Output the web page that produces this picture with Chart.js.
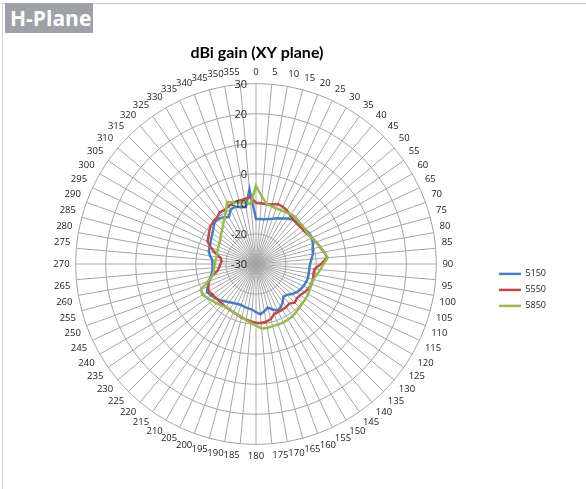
<!DOCTYPE html>
<html lang="en">
<head>
    <meta charset="UTF-8">
    <title>H-Plane</title>
    <script src="https://cdn.jsdelivr.net/npm/chart.js"></script>
    <style>
        html, body {
            margin: 0;
            padding: 0;
            background: #ffffff;
            width: 586px;
            height: 489px;
            overflow: hidden;
            font-family: "Open Sans", Arial, sans-serif;
        }
        .frame {
            position: absolute;
            left: 2px;
            top: 3px;
            width: 584px;
            height: 486px;
            border-top: 1px solid #c8c8c8;
            border-left: 1px solid #d4d4d4;
        }
        .header {
            position: absolute;
            left: 5px;
            top: 3px;
            width: 88px;
            height: 30px;
            background: #9ea2a8;
            color: #ffffff;
            font-weight: bold;
            font-size: 21px;
            line-height: 30px;
            padding-left: 5px;
            box-sizing: border-box;
        }
        .chart-box {
            position: absolute;
            left: 5px;
            top: 34px;
            width: 581px;
            height: 455px;
        }
    </style>
</head>
<body>
<div class="frame"></div>
<div class="header">H-Plane</div>
<div class="chart-box"><canvas id="polar"></canvas></div>

<script>
    const angles = ['0', '5', '10', '15', '20', '25', '30', '35', '40', '45', '50', '55',
        '60', '65', '70', '75', '80', '85', '90', '95', '100', '105', '110', '115',
        '120', '125', '130', '135', '140', '145', '150', '155', '160', '165', '170', '175',
        '180', '185', '190', '195', '200', '205', '210', '215', '220', '225', '230', '235',
        '240', '245', '250', '255', '260', '265', '270', '275', '280', '285', '290', '295',
        '300', '305', '310', '315', '320', '325', '330', '335', '340', '345', '350', '355'];

    const gain5150 = [-15, -15, -14.9, -14.5, -14, -13.2, -12.5, -11.5, -10.8, -10.5, -10.5, -10,
        -9.5, -9.5, -9.8, -10.5, -10.8, -11.5, -12, -12.2, -12.2, -12.1, -12.3, -12.6,
        -13, -13.5, -14.5, -15.5, -15.8, -14.5, -13.5, -12.9, -13.9, -15, -14, -13.2,
        -14, -14.8, -15, -15.2, -15.5, -15.3, -15, -14.5, -13.8, -13, -12.3, -11.8,
        -11.2, -12.3, -13.5, -14.5, -15.2, -15.5, -15.5, -15.4, -14.5, -13.7, -13.6, -13.3,
        -12.8, -12.3, -11.5, -10.5, -10.5, -11, -12, -10, -9.7, -10.5, -10.8, -5];

    const gain5550 = [-9.6, -9.7, -9.7, -9.5, -8.8, -9, -9.4, -10.2, -10.7, -10.9, -10.8, -10.6,
        -10.2, -9.4, -8.7, -8, -7, -6.3, -8.4, -10.5, -10.6, -10.4, -10.5, -10.7,
        -11.3, -12, -12.3, -11.8, -12.8, -12.5, -12.5, -12.4, -12.3, -11, -10.5, -10.3,
        -10.5, -10.8, -11.2, -11.5, -12, -12.3, -12.4, -12.5, -12.6, -12.6, -12.5, -12.3,
        -11.8, -12.5, -13, -15, -17, -17.7, -18.2, -18.5, -18, -16, -14, -12.2,
        -11.8, -11, -10.3, -10, -9.8, -9, -9.2, -8.7, -8.2, -8.2, -8, -7.7];

    const gain5850 = [-4, -7.5, -9.7, -10.2, -10.4, -10.3, -10.2, -9.8, -9.6, -10, -10, -10,
        -10, -9.5, -8.7, -8, -7, -6.1, -7.5, -8.5, -9.5, -10.2, -10.6, -10.3,
        -10, -9.8, -9.8, -9.5, -9.2, -8.8, -8.7, -8.5, -8.6, -8.6, -8.4, -8.5,
        -9.5, -10.3, -11, -11.8, -12, -12.3, -12.6, -12.5, -12, -11.5, -11, -10.3,
        -9.5, -9.7, -13, -15, -15.8, -16, -16.3, -16.5, -16.7, -16.6, -16.4, -16.2,
        -16, -15.5, -14.8, -14, -13, -11.5, -10, -7.2, -8.2, -8.9, -9.2, -9.9];

    const gainTicks = [-30, -20, -10, 0, 10, 20, 30];

    // Excel puts the radial labels to the left of the vertical axis
    const leftTicks = {
        id: 'leftTicks',
        afterDatasetsDraw(chart) {
            const r = chart.scales.r;
            const ctx = chart.ctx;
            ctx.save();
            ctx.font = '11px "Open Sans", Arial, sans-serif';
            ctx.fillStyle = '#262626';
            ctx.textAlign = 'right';
            ctx.textBaseline = 'middle';
            gainTicks.forEach(v => {
                const d = r.getDistanceFromCenterForValue(v);
                ctx.fillText(String(v), r.xCenter - 9, r.yCenter - d + 1);
            });
            ctx.restore();
        }
    };

    const ctx = document.getElementById('polar').getContext('2d');
    new Chart(ctx, {
        type: 'radar',
        data: {
            labels: angles,
            datasets: [
                { label: '5150', data: gain5150, borderColor: '#4a7ebb', backgroundColor: '#4a7ebb', borderWidth: 2.5, order: 3 },
                { label: '5550', data: gain5550, borderColor: '#be4b48', backgroundColor: '#be4b48', borderWidth: 2.5, order: 2 },
                { label: '5850', data: gain5850, borderColor: '#98b954', backgroundColor: '#98b954', borderWidth: 2.5, order: 1 }
            ]
        },
        options: {
            responsive: true,
            maintainAspectRatio: false,
            animation: false,
            elements: {
                line: { tension: 0, fill: false },
                point: { radius: 0, hoverRadius: 0 }
            },
            layout: { padding: { left: 17, right: 30, top: 6, bottom: 27 } },
            plugins: {
                title: {
                    display: true,
                    fullSize: false,
                    text: 'dBi gain (XY plane)',
                    color: '#000000',
                    font: { family: 'Lato', size: 16, weight: 'bold' },
                    padding: { top: 3, bottom: 4 }
                },
                legend: {
                    position: 'right',
                    // empty title only pushes the entries down to where Excel has them
                    title: { display: true, text: '', font: { size: 9 }, padding: { top: 0, bottom: 67 } },
                    labels: {
                        usePointStyle: true,
                        pointStyle: 'line',
                        pointStyleWidth: 22,
                        color: '#222222',
                        font: { family: '"Open Sans"', size: 9 },
                        padding: 7,
                        sort: (a, b) => a.datasetIndex - b.datasetIndex
                    }
                },
                tooltip: { enabled: false }
            },
            scales: {
                r: {
                    min: -30,
                    max: 30,
                    ticks: { stepSize: 10, display: false },
                    grid: { color: '#a6a6a6', lineWidth: 1, circular: false },
                    angleLines: { color: '#a6a6a6', lineWidth: 1 },
                    pointLabels: {
                        color: '#1a1a1a',
                        padding: 6,
                        font: { family: '"Open Sans"', size: 9.5 }
                    }
                }
            }
        },
        plugins: [leftTicks]
    });
</script>
</body>
</html>
